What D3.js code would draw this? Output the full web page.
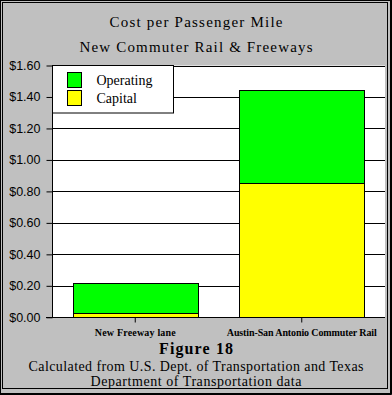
<!DOCTYPE html>
<html>
<head>
<meta charset="UTF-8">
<script src="https://d3js.org/d3.v7.min.js"></script>
<style>
  html, body { margin: 0; padding: 0; background: #c0c0c0; }
  svg { display: block; }
  .serif { font-family: "Liberation Serif", "DejaVu Serif", serif; fill: #000; }
  .ytick text { font-family: "Liberation Sans", Arial, sans-serif; font-size: 12.5px; }
</style>
</head>
<body>
<svg id="chart"></svg>
<script>
// chart data
var categories = ["New Freeway lane", "Austin-San Antonio Commuter Rail"];
var capital = [0.025, 0.851];
var operating = [0.19, 0.593];
var seriesNames = ["Operating", "Capital"];
var seriesColors = ["#00ff00", "#ffff00"];
var yTicks = [0, 0.2, 0.4, 0.6, 0.8, 1.0, 1.2, 1.4, 1.6];

var W = 392, H = 395;
var plot = { left: 52, right: 385, top: 65.5, bottom: 317.3 };

var svg = d3.select("#chart").attr("width", W).attr("height", H);

svg.append("rect").attr("x", 0).attr("y", 0).attr("width", W).attr("height", H).attr("fill", "#c0c0c0");

// double frame
svg.append("rect").attr("x", 0.5).attr("y", 0.5).attr("width", 390).attr("height", 393)
  .attr("fill", "none").attr("stroke", "#000");
svg.append("path").attr("d", "M391.5,0 V394.5 H0").attr("fill", "none").attr("stroke", "#000");
svg.append("rect").attr("x", 2.5).attr("y", 2.5).attr("width", 385).attr("height", 386)
  .attr("fill", "none").attr("stroke", "#000");

var x = d3.scaleBand().domain(categories).range([plot.left, plot.right]).paddingInner(0.25).paddingOuter(0.125);
var y = d3.scaleLinear().domain([0, 1.6]).range([plot.bottom, plot.top]);

svg.append("rect").attr("x", plot.left).attr("y", plot.top)
  .attr("width", plot.right - plot.left).attr("height", plot.bottom - plot.top).attr("fill", "#fff");

// gridlines
svg.append("g").selectAll("line").data(yTicks.slice(1)).join("line")
  .attr("x1", plot.left).attr("x2", plot.right)
  .attr("y1", function(d) { return Math.round(y(d)) + 0.5; })
  .attr("y2", function(d) { return Math.round(y(d)) + 0.5; })
  .attr("stroke", "#000");

// stacked bars
var rows = categories.map(function(c, i) { return { cat: c, Capital: capital[i], Operating: operating[i] }; });
var stack = d3.stack().keys(["Capital", "Operating"])(rows);
var color = d3.scaleOrdinal().domain(seriesNames).range(seriesColors);

svg.append("g").selectAll("g").data(stack).join("g")
  .attr("fill", function(s) { return color(s.key); })
  .selectAll("rect").data(function(s) { return s; }).join("rect")
  .attr("x", function(d) { return Math.round(x(d.data.cat)) + 0.5; })
  .attr("width", Math.round(x.bandwidth()))
  .attr("y", function(d) { return Math.round(y(d[1])) + 0.5; })
  .attr("height", function(d) { return Math.round(y(d[0])) - Math.round(y(d[1])); })
  .attr("stroke", "#000");

// y axis
var yAxis = d3.axisLeft(y).tickValues(yTicks).tickSize(6).tickPadding(6)
  .tickFormat(function(d) { return "$" + d.toFixed(2); });
svg.append("g").attr("class", "ytick")
  .attr("transform", "translate(" + (plot.left + 0.5) + ",0)")
  .call(yAxis)
  .call(function(g) { g.select(".domain").attr("d", "M0," + plot.top + "V" + (plot.bottom + 0.5)); })
  .selectAll("text").attr("fill", "#000");

// x axis
var xAxis = d3.axisBottom(x).tickSize(5).tickPadding(6);
var xg = svg.append("g")
  .attr("transform", "translate(0," + (Math.round(plot.bottom) + 0.5) + ")")
  .call(xAxis);
xg.select(".domain").attr("d", "M" + (plot.left - 6) + ",0H" + plot.right);
xg.selectAll("text").attr("class", "serif").attr("font-size", 10).attr("font-weight", "bold")
  .attr("font-family", "\"Liberation Serif\", serif").attr("dy", "0.71em").attr("fill", "#000")
  .attr("textLength", function(d, i) { return [81, 150][i]; }).attr("lengthAdjust", "spacing");

// legend
var legend = svg.append("g");
legend.append("rect").attr("x", plot.left + 0.5).attr("y", plot.top).attr("width", 121).attr("height", 47.5)
  .attr("fill", "#fff").attr("stroke", "#000");
var items = legend.selectAll("g").data(seriesNames).join("g")
  .attr("transform", function(d, i) { return "translate(67.5," + (72.5 + i * 18) + ")"; });
items.append("rect").attr("width", 14).attr("height", 15)
  .attr("fill", function(d) { return color(d); }).attr("stroke", "#000");
items.append("text").attr("class", "serif").attr("x", 29).attr("y", 12.5)
  .attr("font-size", 14).text(function(d) { return d; });

// titles
var titles = [
  { t: "Cost per Passenger Mile", y: 27, w: 173, size: 15, bold: false },
  { t: "New Commuter Rail & Freeways", y: 52, w: 233, size: 15, bold: false },
  { t: "Figure 18", y: 354, w: 74, size: 16, bold: true },
  { t: "Calculated from U.S. Dept. of Transportation and Texas", y: 370.5, w: 335, size: 14, bold: false },
  { t: "Department of Transportation data", y: 386, w: 211, size: 14, bold: false }
];
svg.append("g").selectAll("text").data(titles).join("text")
  .attr("class", "serif")
  .attr("x", 196).attr("y", function(d) { return d.y; })
  .attr("text-anchor", "middle")
  .attr("font-size", function(d) { return d.size; })
  .attr("font-weight", function(d) { return d.bold ? "bold" : "normal"; })
  .attr("textLength", function(d) { return d.w; })
  .attr("lengthAdjust", "spacing")
  .text(function(d) { return d.t; });
</script>
</body>
</html>
